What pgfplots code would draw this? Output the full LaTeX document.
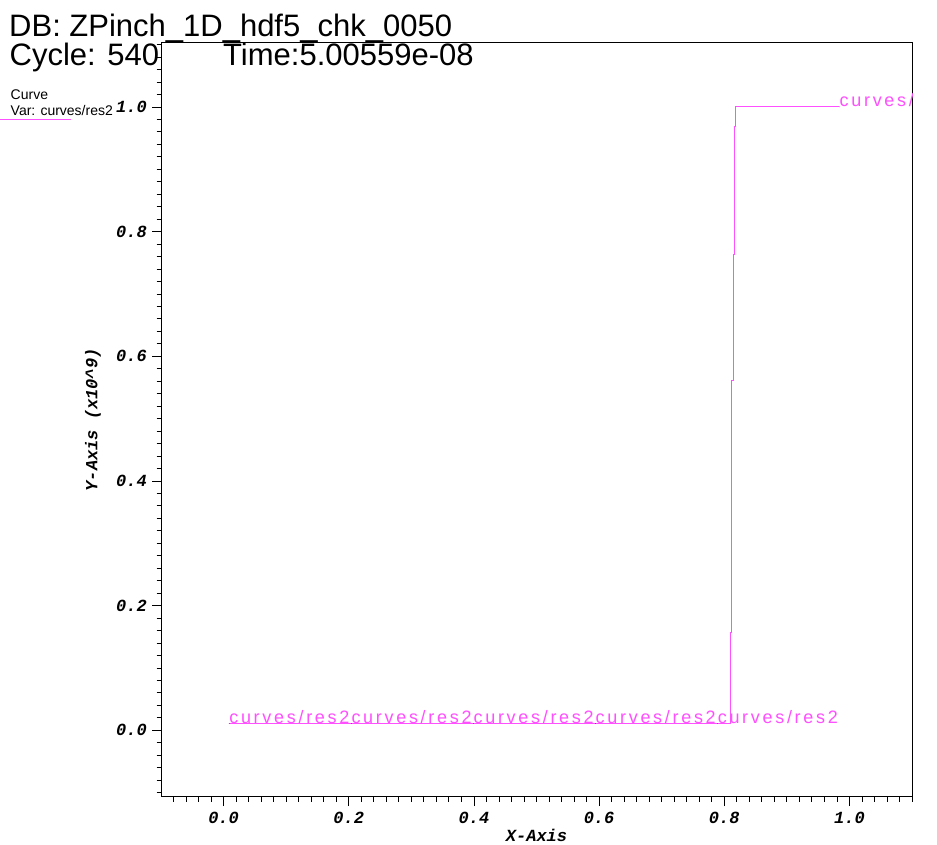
\documentclass[border=0pt]{standalone}
\usepackage{fontspec}
\setmainfont{Liberation Sans}
\newfontfamily\tickfont[BoldItalicFont={* Bold Italic}]{Liberation Mono}
\newfontfamily\labelfont[LetterSpace=15]{Liberation Sans}
\usepackage{pgfplots}
\pgfplotsset{compat=1.18}
\definecolor{curvecol}{RGB}{255,80,255}
\begin{document}
\begin{tikzpicture}
\useasboundingbox[fill=white] (0,0) rectangle (937bp,845bp);
\begin{axis}[
  at={(161bp,48bp)}, anchor=south west,
  width=751bp, height=754.3bp, scale only axis,
  xmin=-0.1, xmax=1.1, ymin=-0.107, ymax=1.103,
  xtick={0,0.2,0.4,0.6,0.8,1.0},
  ytick={0,0.2,0.4,0.6,0.8,1.0},
  minor xtick={-0.08,-0.06,-0.04,-0.02,0.02,0.04,0.06,0.08,0.1,0.12,0.14,0.16,0.18,0.22,0.24,0.26,0.28,0.3,0.32,0.34,0.36,0.38,0.42,0.44,0.46,0.48,0.5,0.52,0.54,0.56,0.58,0.62,0.64,0.66,0.68,0.7,0.72,0.74,0.76,0.78,0.82,0.84,0.86,0.88,0.9,0.92,0.94,0.96,0.98,1.02,1.04,1.06,1.08,1.1},
  minor ytick={-0.1,-0.08,-0.06,-0.04,-0.02,0.02,0.04,0.06,0.08,0.1,0.12,0.14,0.16,0.18,0.22,0.24,0.26,0.28,0.3,0.32,0.34,0.36,0.38,0.42,0.44,0.46,0.48,0.5,0.52,0.54,0.56,0.58,0.62,0.64,0.66,0.68,0.7,0.72,0.74,0.76,0.78,0.82,0.84,0.86,0.88,0.9,0.92,0.94,0.96,0.98,1.02,1.04,1.06,1.08,1.1},
  xtick pos=bottom, ytick pos=left,
  tick align=outside,
  major tick length=9bp, minor tick length=4.5bp,
  every tick/.style={black, line width=0.8bp},
  axis line style={line width=1bp},
  /pgf/number format/.cd, fixed, fixed zerofill, precision=1, assume math mode=true,
  /pgfplots/.cd,
  xticklabel style={font=\tickfont\bfseries\itshape\fontsize{17bp}{17bp}\selectfont, anchor=north, inner sep=0pt, yshift=-6bp},
  yticklabel style={font=\tickfont\bfseries\itshape\fontsize{17bp}{17bp}\selectfont, anchor=east, inner sep=0pt, xshift=-5bp},
  xlabel={X-Axis},
  ylabel={Y-Axis (x10\textasciicircum 9)},
  x label style={font=\tickfont\bfseries\itshape\fontsize{17bp}{17bp}\selectfont, at={(axis description cs:0.5,-0.0504)}, anchor=center},
  y label style={font=\tickfont\bfseries\itshape\fontsize{17bp}{17bp}\selectfont, at={(axis description cs:-0.0905,0.5)}, anchor=center, rotate=0},
  clip=true,
]
\addplot[curvecol, line width=1bp, mark=none] coordinates {
(0.0089,0.011) (0.2041,0.011) (0.3992,0.011) (0.5943,0.011) (0.7894,0.011)
(0.8098,0.011) (0.8098,0.1573) (0.8119,0.1573) (0.8119,0.5618) (0.8140,0.5618)
(0.8140,0.7640) (0.8156,0.7640) (0.8156,0.9679) (0.8178,0.9679) (0.8178,1.0)
(0.9841,1.0)
};
\addplot[only marks, mark=*, mark size=0.01pt, mark options={draw=none, fill=none},
  nodes near coords={curves/res2},
  every node near coord/.style={anchor=base west, inner sep=0pt, text=curvecol, font=\labelfont\fontsize{18bp}{18bp}\selectfont}]
 coordinates {
(0.0089,0.011) (0.2041,0.011) (0.3992,0.011) (0.5943,0.011) (0.7894,0.011) (0.9841,1.0)
};
\end{axis}
\fill[white] (913bp,700bp) rectangle (937bp,760bp);
\node[anchor=base west, inner sep=0pt, font=\fontsize{31bp}{31bp}\selectfont] at (9bp,808.3bp) {DB: ZPinch\_1D\_hdf5\_chk\_0050};
\node[anchor=base west, inner sep=0pt, font=\fontsize{31bp}{31bp}\selectfont] at (9.5bp,779.5bp) {Cycle: 540};
\node[anchor=base west, inner sep=0pt, font=\fontsize{31bp}{31bp}\selectfont] at (223bp,779.5bp) {Time:5.00559e-08};
\node[anchor=base west, inner sep=0pt, font=\fontsize{14bp}{14bp}\selectfont] at (10.5bp,745bp) {Curve};
\node[anchor=base west, inner sep=0pt, font=\fontsize{14bp}{14bp}\selectfont] at (10.5bp,729bp) {Var: curves/res2};
\draw[curvecol, line width=1bp] (0bp,725.7bp) -- (71bp,725.7bp);
\end{tikzpicture}
\end{document}
